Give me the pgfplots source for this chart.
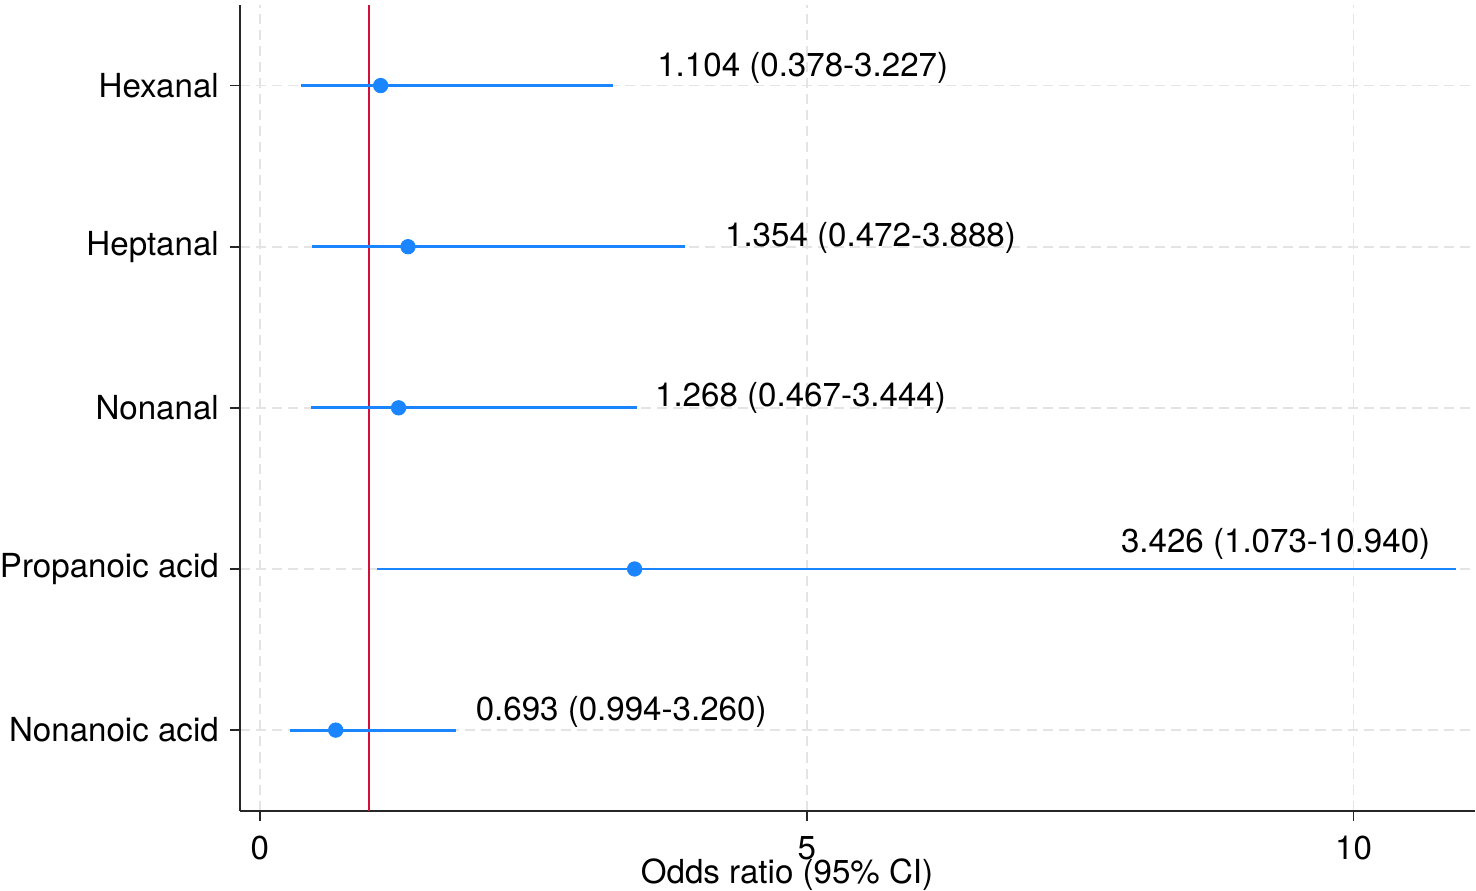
\documentclass[border=0pt]{standalone}
\usepackage{fontspec}
\setmainfont{TeX Gyre Heros}
\usepackage{pgfplots}
\pgfplotsset{compat=1.18}
\usepackage{pgfplotstable}
\definecolor{stblue}{RGB}{26,133,255}
\definecolor{stred}{RGB}{208,16,58}
\definecolor{gridgray}{RGB}{228,228,228}
\pgfplotstableread{
y   or     lo     hi
5   1.104  0.378  3.227
4   1.354  0.472  3.888
3   1.268  0.467  3.444
2   3.426  1.073  10.940
1   0.693  0.275  1.790
}\ordata
\begin{document}
\fontsize{16.5}{20}\selectfont
\begin{tikzpicture}
\begin{axis}[
  name=ax,
  width=615.5pt, height=401.5pt,
  scale only axis,
  xmin=-0.183, xmax=11.11,
  ymin=0.5, ymax=5.5,
  axis x line*=bottom, axis y line*=left,
  axis line style={line width=1pt, black!85},
  xtick={0,5,10},
  ytick={1,2,3,4,5},
  yticklabels={Nonanoic acid, Propanoic acid, Nonanal, Heptanal, Hexanal},
  tick align=outside,
  major tick length=5pt,
  tick style={line width=0.8pt, black!85},
  grid=major,
  major grid style={gridgray, line width=0.8pt, dash pattern=on 5pt off 3pt},
  /pgf/number format/assume math mode=true,
  tick label style={font=\fontsize{16.5}{20}\selectfont},
  yticklabel style={inner xsep=0pt, xshift=-5.3pt},
  xticklabel style={yshift=-2pt},
  xlabel={Odds ratio (95\% CI)},
  xlabel style={at={(rel axis cs:0.443,0)}, anchor=center, yshift=-32pt, inner ysep=0pt, font=\fontsize{16.5}{20}\selectfont},
  clip=false,
]
\addplot[stred, line width=1.1pt] coordinates {(1,0.5) (1,5.5)};
\addplot[only marks, mark=*, mark size=3.6pt, color=stblue,
  error bars/.cd, x dir=both, x explicit, error mark=none,
  error bar style={line width=1.4pt, stblue}]
  table[x=or, y=y, x error plus expr=\thisrow{hi}-\thisrow{or}, x error minus expr=\thisrow{or}-\thisrow{lo}] {\ordata};
\node[anchor=west, inner sep=0pt] at (axis cs:3.63,5.11) {1.104 (0.378-3.227)};
\node[anchor=west, inner sep=0pt] at (axis cs:4.25,4.056) {1.354 (0.472-3.888)};
\node[anchor=west, inner sep=0pt] at (axis cs:3.61,3.06) {1.268 (0.467-3.444)};
\node[anchor=west, inner sep=0pt] at (axis cs:7.87,2.155) {3.426 (1.073-10.940)};
\node[anchor=west, inner sep=0pt] at (axis cs:1.97,1.11) {0.693 (0.994-3.260)};
\end{axis}
\path ([yshift=2.5pt]ax.north west);
\end{tikzpicture}
\end{document}
